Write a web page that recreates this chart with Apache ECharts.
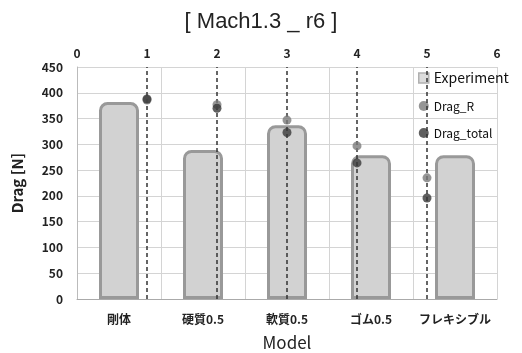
<!DOCTYPE html>
<html><head><meta charset="utf-8">
<script src="https://cdn.jsdelivr.net/npm/echarts@6/dist/echarts.min.js"></script>
<style>html,body{margin:0;padding:0;background:#fff}#c{width:522px;height:353px}</style>
</head><body><div id="c"></div>
<script>
const categories = ['剛体', '硬質0.5', '軟質0.5', 'ゴム0.5', 'フレキシブル'];
const experiment = [382, 289, 337, 279, 279];
const modelPos = [1, 2, 3, 4, 5];
const dragR = [386, 377, 347, 297, 235];
const dragTotal = [388, 370, 323, 264, 196];
const topTicks = [0, 1, 2, 3, 4, 5, 6];

const font = '"Noto Sans CJK JP", "Noto Sans", sans-serif';
const chart = echarts.init(document.getElementById('c'));
chart.setOption({
  animation: false,
  title: {
    text: '[ Mach1.3 _ r6 ]', left: 'center', top: 6,
    textStyle: { fontFamily: '"Liberation Sans", Arial, sans-serif', fontSize: 22, fontWeight: 'normal', color: '#222' }
  },
  grid: { left: 77, right: 25, top: 67, bottom: 54, outerBoundsMode: 'none', containLabel: false },
  legend: {
    orient: 'vertical', left: 413, top: 66, itemGap: 15, itemWidth: 10, itemHeight: 10,
    textStyle: { fontFamily: font, color: '#111', fontSize: 12 },
    data: [
      { name: 'Experiment', icon: 'rect', textStyle: { fontSize: 14 }, itemStyle: { borderWidth: 1.5, borderColor: '#b0b0b0', color: '#dcdcdc' } },
      { name: 'Drag_R', icon: 'circle' },
      { name: 'Drag_total', icon: 'circle' }
    ]
  },
  xAxis: [
    {
      type: 'category', data: categories, position: 'bottom',
      name: 'Model', nameLocation: 'middle', nameGap: 35,
      nameTextStyle: { fontFamily: font, fontSize: 17, color: '#222' },
      axisLine: { lineStyle: { color: '#aaa' } },
      axisTick: { show: false },
      axisLabel: { interval: 0, fontFamily: font, fontWeight: 'bold', fontSize: 12, color: '#222', margin: 14 },
      splitLine: { show: true, interval: 0, lineStyle: { color: '#d4d4d4' } }
    },
    {
      type: 'value', position: 'top', min: topTicks[0], max: topTicks[topTicks.length - 1], interval: 1,
      axisLine: { show: false }, axisTick: { show: false },
      axisLabel: { fontFamily: font, fontWeight: 'bold', fontSize: 12, color: '#222', margin: 8 },
      splitLine: { show: false }
    }
  ],
  yAxis: {
    type: 'value', min: 0, max: 450, interval: 50,
    name: 'Drag [N]', nameLocation: 'middle', nameGap: 52,
    nameTextStyle: { fontFamily: font, fontSize: 15, fontWeight: 'bold', color: '#222' },
    axisLine: { show: true, lineStyle: { color: '#bbb' } },
    axisTick: { show: false },
    axisLabel: { fontFamily: font, fontWeight: 'bold', fontSize: 12, color: '#222', margin: 14 },
    splitLine: { lineStyle: { color: '#d4d4d4' } }
  },
  series: [
    {
      name: 'Experiment', type: 'bar', xAxisIndex: 0, data: experiment, barWidth: 40,
      itemStyle: { color: '#d2d2d2', borderColor: '#999', borderWidth: 3, borderRadius: [7, 7, 0, 0] }
    },
    {
      name: 'Drag_R', type: 'scatter', xAxisIndex: 1, symbolSize: 9,
      data: modelPos.map((x, i) => [x, dragR[i]]),
      itemStyle: { color: '#7a7a7a' },
      z: 5,
      markLine: {
        silent: true, symbol: 'none', label: { show: false },
        lineStyle: { color: '#333', type: [4, 3], width: 1.5 },
        data: modelPos.map(x => ({ xAxis: x }))
      }
    },
    {
      name: 'Drag_total', type: 'scatter', xAxisIndex: 1, symbolSize: 9,
      data: modelPos.map((x, i) => [x, dragTotal[i]]),
      itemStyle: { color: '#383838' },
      z: 6
    }
  ]
});
</script></body></html>
